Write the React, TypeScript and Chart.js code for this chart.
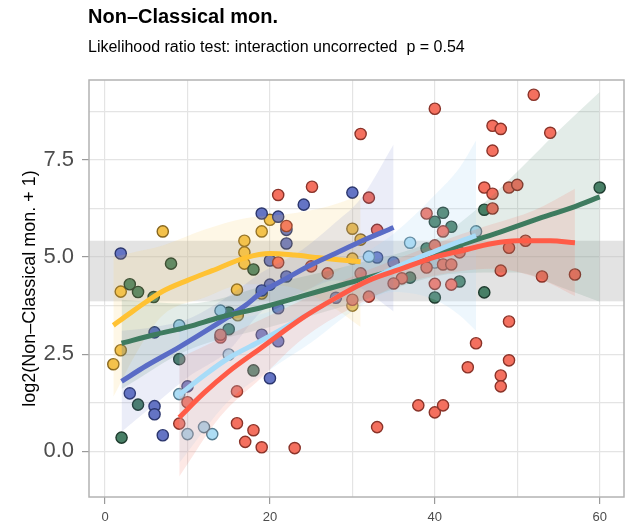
import React, { useEffect, useRef } from "react";
import { Chart, registerables } from "chart.js";
Chart.register(...registerables);

// ---------- data ----------
const titleText = "Non\u2013Classical mon.";
const subtitleText = "Likelihood ratio test: interaction uncorrected  p = 0.54";
const yAxisTitle = "log2(Non\u2013Classical mon. + 1)";

const xTickValues = [0, 10, 20, 30, 40, 50, 60];
const xTickLabels = ["0", "", "20", "", "40", "", "60"];
const yTickValues = [0, 1.25, 2.5, 3.75, 5, 6.25, 7.5, 8.75];
const yTickLabels = ["0.0", "", "2.5", "", "5.0", "", "7.5", ""];

const bandLow = 3.86;
const bandHigh = 5.42;

// yellow group
const yellowX = [1, 1.9, 1.9, 7, 16, 16.9, 16.9, 16.9, 19, 19, 20, 16.1, 30, 31, 30, 30];
const yellowY = [2.24, 2.6, 4.11, 5.66, 4.16, 5.42, 5.12, 4.83, 5.66, 4.06, 5.96, 3.5, 5.73, 5.45, 4.96, 3.75];
const yellowFitX = [1, 3, 5, 7, 10, 13, 17, 20, 23, 26, 29, 31];
const yellowFitY = [3.24, 3.55, 3.85, 4.12, 4.4, 4.65, 4.98, 5.09, 5.05, 4.98, 4.92, 4.88];
const yellowBandX = [1, 4, 7, 12, 17, 22, 27, 31];
const yellowUpper = [5.0, 5.15, 5.3, 5.7, 6.0, 6.1, 6.3, 6.6];
const yellowLower = [1.4, 2.6, 3.5, 3.95, 4.3, 4.25, 3.8, 3.2];

// blue group
const blueX = [1.9, 3, 6, 6, 6, 7, 10, 19, 21, 24.1, 22, 22, 20, 22, 20, 19, 21, 30, 33, 19, 21, 20, 28, 35];
const blueY = [5.09, 1.49, 3.06, 1.16, 0.95, 0.41, 1.67, 6.12, 6.04, 6.35, 5.7, 5.35, 4.91, 4.5, 4.29, 4.14, 3.68, 6.66, 4.99, 3.0, 2.83, 1.88, 3.95, 4.86];
const blueFitX = [2, 5, 9, 13, 17, 19, 22, 25, 28, 31, 35];
const blueFitY = [1.8, 2.2, 2.68, 3.2, 3.75, 4.09, 4.45, 4.8, 5.1, 5.4, 5.76];
const blueBandX = [2, 6, 10, 15, 19, 24, 28, 31, 35];
const blueUpper = [3.1, 3.2, 3.4, 4.0, 4.6, 5.2, 5.9, 6.5, 7.9];
const blueLower = [0.5, 1.2, 1.9, 2.6, 3.6, 4.1, 4.4, 4.2, 3.6];

// green group
const greenX = [2, 3, 4, 5.9, 4, 9, 15, 15, 8, 18, 18, 41, 40, 42, 37, 40, 39, 43, 46, 46, 60];
const greenY = [0.35, 4.3, 4.1, 3.97, 1.2, 2.37, 3.57, 3.14, 4.83, 4.68, 2.08, 6.14, 5.91, 5.78, 4.47, 3.96, 5.22, 4.37, 4.09, 6.22, 6.79];
const greenFitX = [2, 6, 10, 14, 19, 24, 29, 34, 39, 43, 48, 53, 57, 60];
const greenFitY = [2.78, 3.0, 3.2, 3.45, 3.7, 4.0, 4.3, 4.6, 4.95, 5.3, 5.65, 6.02, 6.3, 6.55];
const greenBandX = [2, 10, 20, 30, 40, 46, 50, 55, 60];
const greenUpper = [3.9, 3.8, 4.3, 4.8, 5.45, 6.4, 7.2, 8.25, 9.25];
const greenLower = [1.6, 2.6, 3.2, 3.8, 4.5, 4.6, 4.6, 4.25, 3.85];

// light blue group
const lightX = [9, 9, 10, 12, 13, 15, 14, 32, 37, 40, 45];
const lightY = [3.24, 1.47, 0.44, 0.62, 0.44, 2.49, 3.62, 5.01, 5.37, 4.86, 5.66];
const lightFitX = [9, 12, 15, 19, 24, 28, 32, 36, 40, 43, 45];
const lightFitY = [1.45, 1.95, 2.4, 2.85, 3.45, 3.95, 4.4, 4.8, 5.15, 5.4, 5.55];
const lightBandX = [9, 15, 20, 25, 30, 35, 40, 43, 45];
const lightUpper = [3.2, 3.4, 3.6, 4.2, 4.9, 5.6, 6.6, 7.3, 8.0];
const lightLower = [-0.3, 1.3, 2.1, 2.8, 3.6, 4.1, 3.9, 3.5, 3.1];

// red group
const redX = [14, 14, 10, 9, 16, 16, 18, 17, 19, 23, 33, 38, 40, 41, 44, 45, 48, 48, 49, 49, 40, 42, 48, 53, 57, 40, 52, 47, 48, 54, 47, 46, 47, 49, 50, 47, 39, 41, 51, 49, 43, 40, 39, 41, 42, 36, 33, 32, 25.1, 27, 25, 30, 32, 35, 31, 31, 21, 22, 21];
const redY = [2.93, 3.0, 1.26, 0.71, 1.54, 0.72, 0.54, 0.24, 0.1, 0.08, 0.62, 1.18, 1.0, 1.18, 2.16, 2.78, 1.95, 1.67, 2.34, 3.34, 4.31, 4.29, 4.65, 4.5, 4.55, 8.82, 9.18, 8.38, 8.3, 8.2, 7.74, 6.79, 6.63, 6.79, 6.86, 6.25, 6.12, 5.66, 5.42, 5.24, 5.12, 5.3, 4.73, 4.81, 4.81, 4.45, 5.7, 6.53, 6.81, 4.58, 4.76, 3.9, 3.98, 4.32, 4.58, 8.17, 6.6, 5.8, 4.86];
const redFitX = [9, 12, 15, 19, 24, 28, 32, 36, 40, 43, 47, 50, 54, 57];
const redFitY = [0.87, 1.5, 2.05, 2.67, 3.44, 3.95, 4.4, 4.7, 5.0, 5.15, 5.35, 5.42, 5.42, 5.37];
const redBandX = [9, 14, 19, 24, 30, 36, 42, 47, 52, 57];
const redUpper = [2.4, 2.9, 3.4, 3.9, 4.5, 5.0, 5.5, 5.85, 6.2, 6.76];
const redLower = [-0.65, 0.9, 1.9, 2.9, 3.7, 4.3, 4.6, 4.7, 4.5, 4.0];

// ---------- helpers ----------
const pts = (xs: number[], ys: number[]) => xs.map((x, i) => ({ x, y: ys[i] }));

const groups = [
  { name: "red", x: redX, y: redY, fx: redFitX, fy: redFitY, bx: redBandX, bu: redUpper, bl: redLower, fill: "#F4705F", edge: "#8A3329", line: "#FF5B47", band: "rgba(240,110,95,0.16)" },
  { name: "light", x: lightX, y: lightY, fx: lightFitX, fy: lightFitY, bx: lightBandX, bu: lightUpper, bl: lightLower, fill: "#ADDDF4", edge: "#557C90", line: "#A8DCF8", band: "rgba(170,215,245,0.2)" },
  { name: "green", x: greenX, y: greenY, fx: greenFitX, fy: greenFitY, bx: greenBandX, bu: greenUpper, bl: greenLower, fill: "#487F66", edge: "#1E3B2E", line: "#3E7B5F", band: "rgba(70,125,100,0.15)" },
  { name: "blue", x: blueX, y: blueY, fx: blueFitX, fy: blueFitY, bx: blueBandX, bu: blueUpper, bl: blueLower, fill: "#6474C4", edge: "#2B366D", line: "#5A6CC6", band: "rgba(100,115,200,0.13)" },
  { name: "yellow", x: yellowX, y: yellowY, fx: yellowFitX, fy: yellowFitY, bx: yellowBandX, bu: yellowUpper, bl: yellowLower, fill: "#F3C14B", edge: "#86661F", line: "#FFC233", band: "rgba(250,200,90,0.15)" },
];

const FONT = '"Liberation Sans", Arial, Helvetica, sans-serif';

const deco = {
  id: "deco",
  beforeDatasetsDraw(chart: any) {
    const { ctx, chartArea: a, scales } = chart;
    const y = scales.y;
    const t = y.getPixelForValue(bandHigh);
    const b = y.getPixelForValue(bandLow);
    ctx.save();
    ctx.fillStyle = "rgba(185,185,185,0.4)";
    ctx.fillRect(a.left, t, a.right - a.left, b - t);
    ctx.restore();
  },
  afterDraw(chart: any) {
    const { ctx, chartArea: a, scales } = chart;
    ctx.save();
    ctx.strokeStyle = "#B3B3B3";
    ctx.lineWidth = 1.5;
    ctx.strokeRect(a.left, a.top, a.right - a.left, a.bottom - a.top);
    // x tick labels (from the x scale)
    const xs = scales.x;
    ctx.fillStyle = "#4D4D4D";
    ctx.font = `13px ${FONT}`;
    ctx.textAlign = "center";
    ctx.textBaseline = "top";
    xTickValues.forEach((v, i) => {
      if (xTickLabels[i]) ctx.fillText(xTickLabels[i], xs.getPixelForValue(v), a.bottom + 14);
    });
    // titles
    ctx.fillStyle = "#000";
    ctx.textBaseline = "alphabetic";
    ctx.textAlign = "left";
    ctx.font = `bold 20px ${FONT}`;
    ctx.fillText(titleText, a.left - 1, 23);
    ctx.font = `16px ${FONT}`;
    ctx.fillText(subtitleText, a.left - 1, 52);
    ctx.restore();
  },
};

export default function App() {
  const ref = useRef<HTMLCanvasElement>(null);
  useEffect(() => {
    if (!ref.current) return;
    const datasets: any[] = [];
    groups.forEach((g) => {
      datasets.push({
        type: "scatter",
        data: pts(g.x, g.y),
        backgroundColor: g.fill,
        borderColor: g.edge,
        borderWidth: 1.4,
        pointRadius: 5.6,
        order: 3,
      });
    });
    groups.forEach((g) => {
      datasets.push({
        type: "line",
        data: pts(g.bx, g.bu),
        borderWidth: 0,
        pointRadius: 0,
        backgroundColor: g.band,
        fill: "+1",
        cubicInterpolationMode: "monotone",
        order: 2,
      });
      datasets.push({
        type: "line",
        data: pts(g.bx, g.bl),
        borderWidth: 0,
        pointRadius: 0,
        fill: false,
        cubicInterpolationMode: "monotone",
        order: 2,
      });
    });
    groups.forEach((g) => {
      datasets.push({
        type: "line",
        data: pts(g.fx, g.fy),
        borderColor: g.line,
        borderWidth: 5,
        pointRadius: 0,
        fill: false,
        cubicInterpolationMode: "monotone",
        order: 1,
      });
    });

    const chart = new Chart(ref.current, {
      type: "scatter",
      data: { datasets },
      options: {
        animation: false,
        responsive: true,
        maintainAspectRatio: false,
        layout: { autoPadding: false, padding: { top: 80, right: 2, left: 0, bottom: 0 } },
        plugins: { legend: { display: false }, tooltip: { enabled: false }, title: { display: false } },
        scales: {
          x: {
            type: "linear",
            min: -1.95,
            max: 62.95,
            afterFit: (s: any) => { s.height = 27; },
            afterBuildTicks: (s: any) => { s.ticks = xTickValues.map((v) => ({ value: v })); },
            ticks: { display: false },
            grid: {
              color: "#E4E4E4",
              lineWidth: 1.2,
              tickLength: 7,
              tickColor: (c: any) => (c.tick && xTickLabels[xTickValues.indexOf(c.tick.value)] ? "#9A9A9A" : "rgba(0,0,0,0)"),
            },
            border: { display: false },
          },
          y: {
            type: "linear",
            min: -1.18,
            max: 9.56,
            afterFit: (s: any) => { s.width = 89; },
            afterBuildTicks: (s: any) => { s.ticks = yTickValues.map((v) => ({ value: v })); },
            ticks: {
              autoSkip: false,
              padding: 8,
              color: "#4D4D4D",
              font: { family: FONT, size: 22 },
              callback: (v: any) => yTickLabels[yTickValues.indexOf(Number(v))] ?? "",
            },
            grid: {
              color: "#E4E4E4",
              lineWidth: 1.2,
              tickLength: 7,
              tickColor: (c: any) => (c.tick && yTickLabels[yTickValues.indexOf(c.tick.value)] ? "#9A9A9A" : "rgba(0,0,0,0)"),
            },
            border: { display: false },
            title: {
              display: true,
              text: yAxisTitle,
              color: "#000",
              font: { family: FONT, size: 18 },
              padding: { top: 19, bottom: 0 },
            },
          },
        },
      },
      plugins: [deco],
    });
    return () => chart.destroy();
  }, []);

  return (
    <div style={{ position: "absolute", left: 0, top: 0, width: 626, height: 524 }}>
      <canvas ref={ref} />
    </div>
  );
}
